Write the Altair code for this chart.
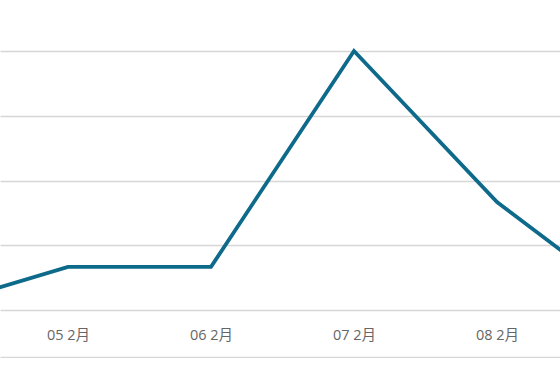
import altair as alt
import pandas as pd

# data (UTC days in February)
dates = ["2024-02-04", "2024-02-05", "2024-02-06", "2024-02-07", "2024-02-08", "2024-02-09"]
values = [0, 2, 2, 12, 5, 0]
tick_dates = ["2024-02-05", "2024-02-06", "2024-02-07", "2024-02-08"]
grid_values = [-2.178, 0, 3, 6, 9, 12]

df = pd.DataFrame({"date": pd.to_datetime(dates, utc=True), "value": values})

DAY = 86400000
t0 = pd.Timestamp("2024-02-05", tz="UTC").value // 10**6
x_dom = [t0 - int(0.4755 * DAY), t0 + int(3.4406 * DAY)]
tick_ms = [pd.Timestamp(d, tz="UTC").value // 10**6 for d in tick_dates]

chart = alt.Chart(df).mark_line(
    color="#0d6a8a", strokeWidth=3.8, clip=True, strokeJoin="miter"
).encode(
    x=alt.X("date:T", scale=alt.Scale(type="utc", domain=x_dom, nice=False),
            axis=alt.Axis(values=tick_ms, format="%d %-m月", title=None, ticks=False,
                          domain=False, grid=False, offset=-48, labelPadding=18,
                          labelFont="Open Sans, Noto Sans CJK SC", labelFontSize=14.5,
                          labelColor="#666666")),
    y=alt.Y("value:Q", scale=alt.Scale(domain=[-2.224, 14.363], nice=False, zero=False),
            axis=alt.Axis(values=grid_values, labels=False, ticks=False, domain=False,
                          title=None, grid=True, gridColor="#d6d6d6", gridWidth=1.6)),
).properties(
    width=560, height=358, padding=0, autosize=alt.AutoSizeParams(type="none")
).configure_view(stroke=None)

chart.save("out.html", embed_options={"renderer": "svg", "actions": False})
